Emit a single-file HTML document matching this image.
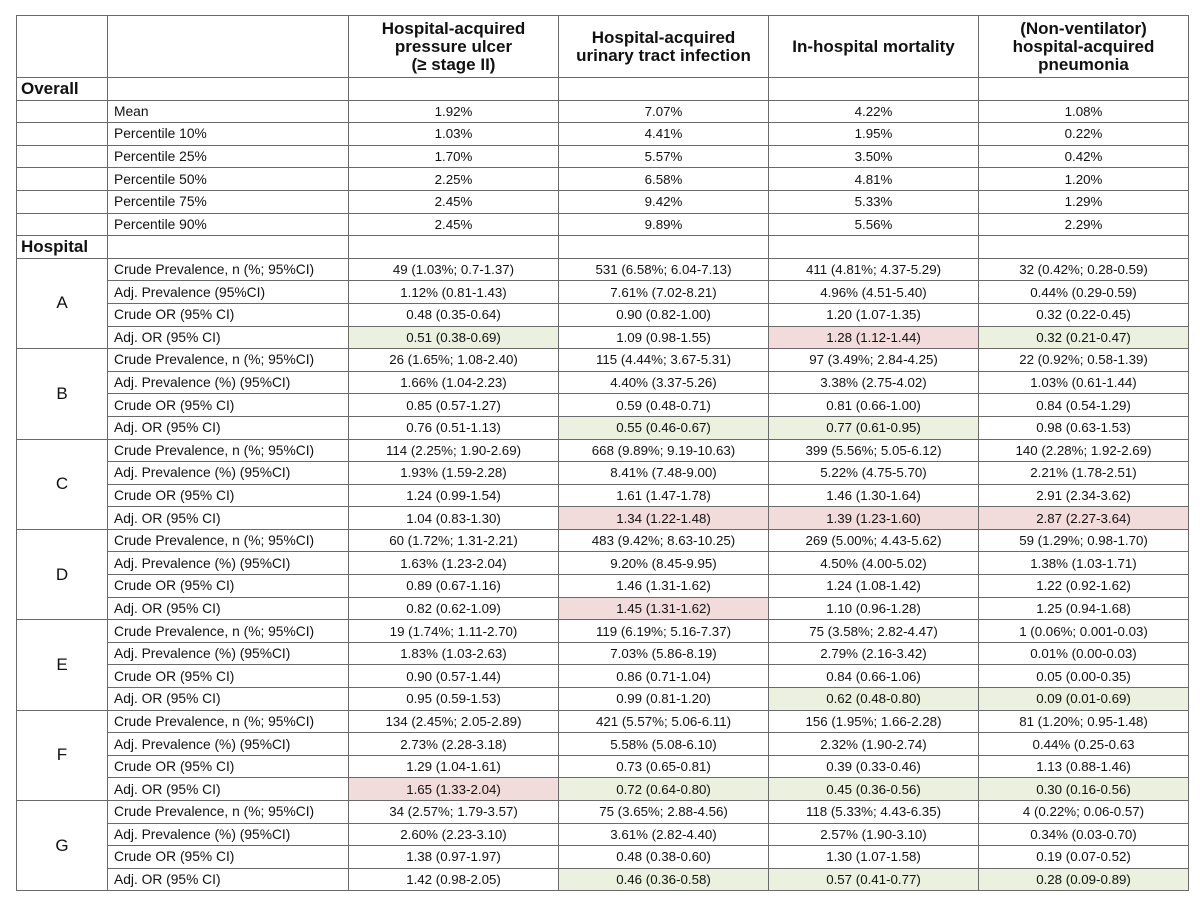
<!DOCTYPE html>
<html><head><meta charset="utf-8"><style>
body{margin:0;background:#fff;font-family:"Liberation Sans",Arial,sans-serif;color:#111;}
table{position:absolute;left:16px;top:15px;border-collapse:collapse;table-layout:fixed;width:1172px;}
td{border:1px solid #6a6a6a;height:21.6px;padding:0;font-size:13.3px;text-align:center;white-space:nowrap;overflow:hidden;}
tr.h td{height:61px;font-weight:bold;font-size:17px;line-height:18px;}
td.l{text-align:left;padding-left:6px;font-size:13.8px;}
td.s{text-align:left;padding-left:4px;font-weight:bold;font-size:17px;}
td.g{background:#ebf1de;}
td.r{background:#f2dcdb;}
td.k{font-size:17px;}
</style></head><body>
<table>
<colgroup><col style="width:91px"><col style="width:241px"><col style="width:210px"><col style="width:210px"><col style="width:210px"><col style="width:210px"></colgroup>
<tr class="h"><td></td><td></td><td>Hospital-acquired<br>pressure ulcer<br>(≥ stage II)</td><td>Hospital-acquired<br>urinary tract infection</td><td>In-hospital mortality</td><td>(Non-ventilator)<br>hospital-acquired<br>pneumonia</td></tr>
<tr><td class="s">Overall</td><td></td><td></td><td></td><td></td><td></td></tr>
<tr><td></td><td class="l">Mean</td><td>1.92%</td><td>7.07%</td><td>4.22%</td><td>1.08%</td></tr>
<tr><td></td><td class="l">Percentile 10%</td><td>1.03%</td><td>4.41%</td><td>1.95%</td><td>0.22%</td></tr>
<tr><td></td><td class="l">Percentile 25%</td><td>1.70%</td><td>5.57%</td><td>3.50%</td><td>0.42%</td></tr>
<tr><td></td><td class="l">Percentile 50%</td><td>2.25%</td><td>6.58%</td><td>4.81%</td><td>1.20%</td></tr>
<tr><td></td><td class="l">Percentile 75%</td><td>2.45%</td><td>9.42%</td><td>5.33%</td><td>1.29%</td></tr>
<tr><td></td><td class="l">Percentile 90%</td><td>2.45%</td><td>9.89%</td><td>5.56%</td><td>2.29%</td></tr>
<tr><td class="s">Hospital</td><td></td><td></td><td></td><td></td><td></td></tr>

<tr><td rowspan="4" class="k">A</td><td class="l">Crude Prevalence, n (%; 95%CI)</td><td>49 (1.03%; 0.7-1.37)</td><td>531 (6.58%; 6.04-7.13)</td><td>411 (4.81%; 4.37-5.29)</td><td>32 (0.42%; 0.28-0.59)</td></tr>
<tr><td class="l">Adj. Prevalence (95%CI)</td><td>1.12% (0.81-1.43)</td><td>7.61% (7.02-8.21)</td><td>4.96% (4.51-5.40)</td><td>0.44% (0.29-0.59)</td></tr>
<tr><td class="l">Crude OR (95% CI)</td><td>0.48 (0.35-0.64)</td><td>0.90 (0.82-1.00)</td><td>1.20 (1.07-1.35)</td><td>0.32 (0.22-0.45)</td></tr>
<tr><td class="l">Adj. OR (95% CI)</td><td class="g">0.51 (0.38-0.69)</td><td>1.09 (0.98-1.55)</td><td class="r">1.28 (1.12-1.44)</td><td class="g">0.32 (0.21-0.47)</td></tr>

<tr><td rowspan="4" class="k">B</td><td class="l">Crude Prevalence, n (%; 95%CI)</td><td>26 (1.65%; 1.08-2.40)</td><td>115 (4.44%; 3.67-5.31)</td><td>97 (3.49%; 2.84-4.25)</td><td>22 (0.92%; 0.58-1.39)</td></tr>
<tr><td class="l">Adj. Prevalence (%) (95%CI)</td><td>1.66% (1.04-2.23)</td><td>4.40% (3.37-5.26)</td><td>3.38% (2.75-4.02)</td><td>1.03% (0.61-1.44)</td></tr>
<tr><td class="l">Crude OR (95% CI)</td><td>0.85 (0.57-1.27)</td><td>0.59 (0.48-0.71)</td><td>0.81 (0.66-1.00)</td><td>0.84 (0.54-1.29)</td></tr>
<tr><td class="l">Adj. OR (95% CI)</td><td>0.76 (0.51-1.13)</td><td class="g">0.55 (0.46-0.67)</td><td class="g">0.77 (0.61-0.95)</td><td>0.98 (0.63-1.53)</td></tr>

<tr><td rowspan="4" class="k">C</td><td class="l">Crude Prevalence, n (%; 95%CI)</td><td>114 (2.25%; 1.90-2.69)</td><td>668 (9.89%; 9.19-10.63)</td><td>399 (5.56%; 5.05-6.12)</td><td>140 (2.28%; 1.92-2.69)</td></tr>
<tr><td class="l">Adj. Prevalence (%) (95%CI)</td><td>1.93% (1.59-2.28)</td><td>8.41% (7.48-9.00)</td><td>5.22% (4.75-5.70)</td><td>2.21% (1.78-2.51)</td></tr>
<tr><td class="l">Crude OR (95% CI)</td><td>1.24 (0.99-1.54)</td><td>1.61 (1.47-1.78)</td><td>1.46 (1.30-1.64)</td><td>2.91 (2.34-3.62)</td></tr>
<tr><td class="l">Adj. OR (95% CI)</td><td>1.04 (0.83-1.30)</td><td class="r">1.34 (1.22-1.48)</td><td class="r">1.39 (1.23-1.60)</td><td class="r">2.87 (2.27-3.64)</td></tr>

<tr><td rowspan="4" class="k">D</td><td class="l">Crude Prevalence, n (%; 95%CI)</td><td>60 (1.72%; 1.31-2.21)</td><td>483 (9.42%; 8.63-10.25)</td><td>269 (5.00%; 4.43-5.62)</td><td>59 (1.29%; 0.98-1.70)</td></tr>
<tr><td class="l">Adj. Prevalence (%) (95%CI)</td><td>1.63% (1.23-2.04)</td><td>9.20% (8.45-9.95)</td><td>4.50% (4.00-5.02)</td><td>1.38% (1.03-1.71)</td></tr>
<tr><td class="l">Crude OR (95% CI)</td><td>0.89 (0.67-1.16)</td><td>1.46 (1.31-1.62)</td><td>1.24 (1.08-1.42)</td><td>1.22 (0.92-1.62)</td></tr>
<tr><td class="l">Adj. OR (95% CI)</td><td>0.82 (0.62-1.09)</td><td class="r">1.45 (1.31-1.62)</td><td>1.10 (0.96-1.28)</td><td>1.25 (0.94-1.68)</td></tr>

<tr><td rowspan="4" class="k">E</td><td class="l">Crude Prevalence, n (%; 95%CI)</td><td>19 (1.74%; 1.11-2.70)</td><td>119 (6.19%; 5.16-7.37)</td><td>75 (3.58%; 2.82-4.47)</td><td>1 (0.06%; 0.001-0.03)</td></tr>
<tr><td class="l">Adj. Prevalence (%) (95%CI)</td><td>1.83% (1.03-2.63)</td><td>7.03% (5.86-8.19)</td><td>2.79% (2.16-3.42)</td><td>0.01% (0.00-0.03)</td></tr>
<tr><td class="l">Crude OR (95% CI)</td><td>0.90 (0.57-1.44)</td><td>0.86 (0.71-1.04)</td><td>0.84 (0.66-1.06)</td><td>0.05 (0.00-0.35)</td></tr>
<tr><td class="l">Adj. OR (95% CI)</td><td>0.95 (0.59-1.53)</td><td>0.99 (0.81-1.20)</td><td class="g">0.62 (0.48-0.80)</td><td class="g">0.09 (0.01-0.69)</td></tr>

<tr><td rowspan="4" class="k">F</td><td class="l">Crude Prevalence, n (%; 95%CI)</td><td>134 (2.45%; 2.05-2.89)</td><td>421 (5.57%; 5.06-6.11)</td><td>156 (1.95%; 1.66-2.28)</td><td>81 (1.20%; 0.95-1.48)</td></tr>
<tr><td class="l">Adj. Prevalence (%) (95%CI)</td><td>2.73% (2.28-3.18)</td><td>5.58% (5.08-6.10)</td><td>2.32% (1.90-2.74)</td><td>0.44% (0.25-0.63</td></tr>
<tr><td class="l">Crude OR (95% CI)</td><td>1.29 (1.04-1.61)</td><td>0.73 (0.65-0.81)</td><td>0.39 (0.33-0.46)</td><td>1.13 (0.88-1.46)</td></tr>
<tr><td class="l">Adj. OR (95% CI)</td><td class="r">1.65 (1.33-2.04)</td><td class="g">0.72 (0.64-0.80)</td><td class="g">0.45 (0.36-0.56)</td><td class="g">0.30 (0.16-0.56)</td></tr>

<tr><td rowspan="4" class="k">G</td><td class="l">Crude Prevalence, n (%; 95%CI)</td><td>34 (2.57%; 1.79-3.57)</td><td>75 (3.65%; 2.88-4.56)</td><td>118 (5.33%; 4.43-6.35)</td><td>4 (0.22%; 0.06-0.57)</td></tr>
<tr><td class="l">Adj. Prevalence (%) (95%CI)</td><td>2.60% (2.23-3.10)</td><td>3.61% (2.82-4.40)</td><td>2.57% (1.90-3.10)</td><td>0.34% (0.03-0.70)</td></tr>
<tr><td class="l">Crude OR (95% CI)</td><td>1.38 (0.97-1.97)</td><td>0.48 (0.38-0.60)</td><td>1.30 (1.07-1.58)</td><td>0.19 (0.07-0.52)</td></tr>
<tr><td class="l">Adj. OR (95% CI)</td><td>1.42 (0.98-2.05)</td><td class="g">0.46 (0.36-0.58)</td><td class="g">0.57 (0.41-0.77)</td><td class="g">0.28 (0.09-0.89)</td></tr>
</table>
</body></html>
